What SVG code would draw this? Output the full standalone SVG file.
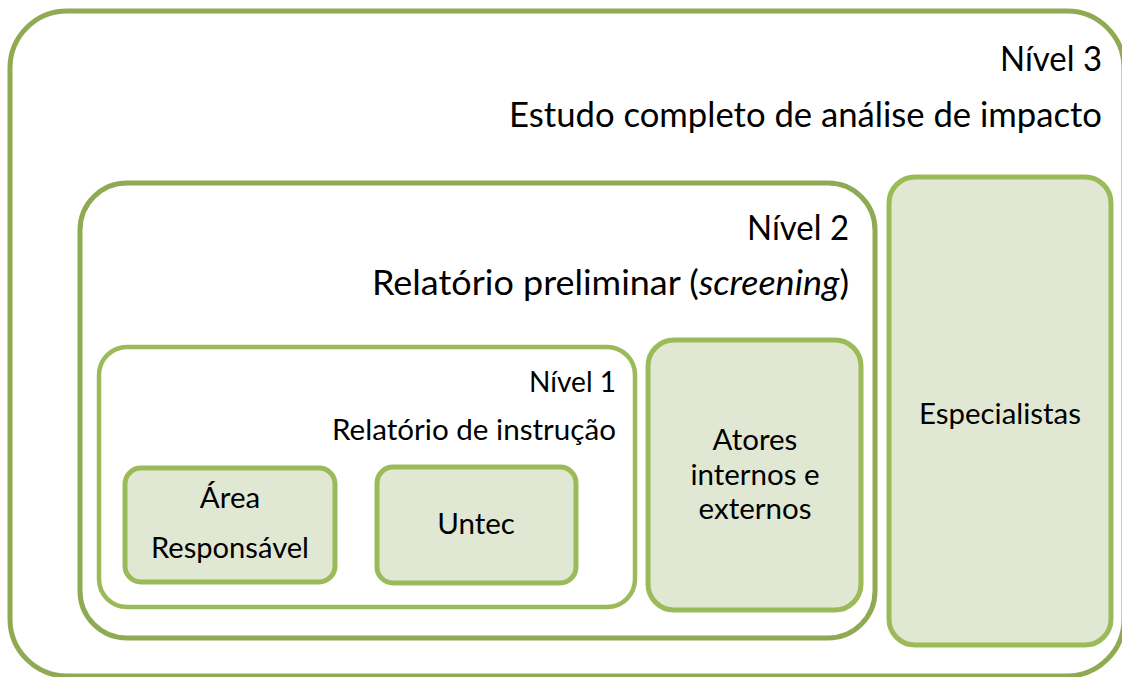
<svg xmlns="http://www.w3.org/2000/svg" width="1122" height="677" viewBox="0 0 1122 677">
<style>
.frame{fill:#FFFFFF;stroke:#8EAB53;stroke-width:5}
.frame1{fill:#FFFFFF;stroke:#9BBB59;stroke-width:4.5}
.node{fill:#E0E8D3;stroke:#9BBB59;stroke-width:5}
text{font-family:Lato,"Open Sans",sans-serif;fill:#000000}
.big{font-size:34px}
.mid{font-size:29.5px}
.r{text-anchor:end}
.c{text-anchor:middle}
</style>
<rect x="0" y="0" width="1122" height="677" fill="#FFFFFF"/>
<g id="nivel3">
<rect class="frame" x="10" y="11" width="1114" height="665" rx="57"/>
<text class="big r" x="1102" y="71" textLength="102" lengthAdjust="spacingAndGlyphs">Nível 3</text>
<text class="big r" x="1102" y="127" textLength="593" lengthAdjust="spacingAndGlyphs">Estudo completo de análise de impacto</text>
</g>
<g id="nivel2">
<rect class="frame" x="80" y="183" width="795" height="455" rx="47"/>
<text class="big r" x="849" y="240" textLength="102" lengthAdjust="spacingAndGlyphs">Nível 2</text>
<text class="big r" x="849" y="295" textLength="477" lengthAdjust="spacingAndGlyphs">Relatório preliminar (<tspan font-style="italic">screening</tspan>)</text>
</g>
<g id="nivel1">
<rect class="frame1" x="99" y="347" width="536" height="260" rx="28"/>
<text class="mid r" x="616" y="392" textLength="87" lengthAdjust="spacingAndGlyphs">Nível 1</text>
<text class="mid r" x="616" y="440" textLength="284" lengthAdjust="spacingAndGlyphs">Relatório de instrução</text>
</g>
<g id="area">
<rect class="node" x="125" y="468" width="210" height="114" rx="16"/>
<text class="mid c" x="230" y="508">Área</text>
<text class="mid c" x="230" y="558" textLength="158" lengthAdjust="spacingAndGlyphs">Responsável</text>
</g>
<g id="untec">
<rect class="node" x="377" y="467" width="199" height="116" rx="16"/>
<text class="mid c" x="476" y="534">Untec</text>
</g>
<g id="atores">
<rect class="node" x="648" y="340" width="213" height="270" rx="26"/>
<text class="mid c" x="755" y="450">Atores</text>
<text class="mid c" x="755" y="485">internos e</text>
<text class="mid c" x="755" y="519">externos</text>
</g>
<g id="especialistas">
<rect class="node" x="889" y="177" width="222" height="468" rx="26"/>
<text class="mid c" x="1000" y="424" textLength="162" lengthAdjust="spacingAndGlyphs">Especialistas</text>
</g>
<g id="connectors"></g>
</svg>
